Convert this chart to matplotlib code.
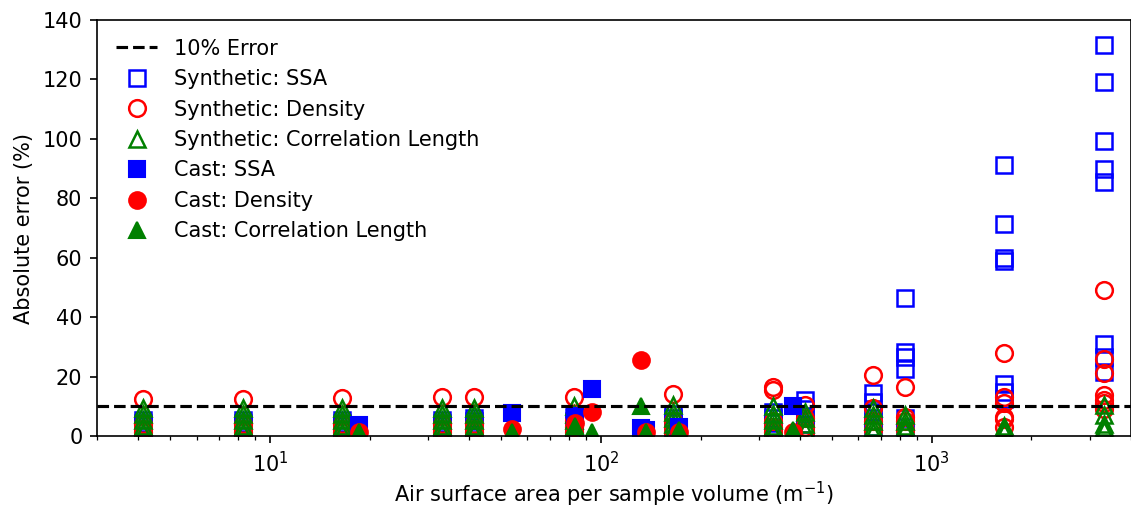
import matplotlib
matplotlib.use('Agg')
import matplotlib.pyplot as plt

# Synthetic samples: air surface area per volume (m^-1) and absolute errors (%)
syn_x = [4.14, 8.28, 16.56, 33.1, 41.4, 82.8, 165.6, 331, 414, 662, 828, 1656, 3312]

syn_ssa = [
    [5.5, 4.5, 3.5, 2.5, 1.5],
    [5.5, 4.5, 3.5, 2.5, 1.5],
    [5.5, 4.5, 3.5, 2.5, 1.5],
    [5.5, 4.5, 3.5, 2.5, 1.5],
    [6.0, 5.0, 4.0, 3.0, 2.0],
    [6.5, 5.0, 4.0, 3.0, 2.0],
    [7.5, 6.0, 4.5, 3.0, 2.0],
    [8.0, 6.0, 4.5, 3.0, 2.0],
    [12.2, 9.0, 6.0, 4.0, 2.0],
    [14.4, 11.5, 8.0, 5.0, 3.0],
    [46.4, 28.4, 26.5, 22.5, 6.0, 3.0],
    [91.1, 71.3, 59.9, 59.0, 17.5, 14.9, 12.5],
    [131.7, 119.1, 99.3, 90.0, 85.4, 31.1, 26.5, 21.4],
]

syn_density = [
    [12.6, 4.0, 2.5, 1.5],
    [12.6, 4.0, 2.5, 1.5],
    [12.8, 4.0, 2.5, 1.5],
    [13.2, 4.0, 2.5, 1.5],
    [13.0, 4.0, 2.5, 1.5],
    [13.2, 5.0, 3.0, 1.5],
    [14.1, 5.0, 3.0, 1.5],
    [16.6, 15.5, 5.0, 3.0, 1.5],
    [10.4, 6.0, 3.0, 1.5],
    [20.6, 9.3, 5.0, 2.0],
    [16.6, 6.5, 5.0, 2.0],
    [28.0, 13.2, 11.0, 6.3, 5.8, 2.9],
    [49.0, 25.9, 21.1, 13.8, 12.0, 11.0, 9.1],
]

syn_corr = [
    [9.4, 7.5, 5.5, 3.5, 1.5],
    [9.4, 7.5, 5.5, 3.5, 1.5],
    [9.4, 7.5, 5.5, 3.5, 1.5],
    [9.4, 7.5, 5.5, 3.5, 1.5],
    [9.4, 7.5, 5.5, 3.5, 1.5],
    [10.0, 7.5, 5.5, 3.5, 1.5],
    [10.5, 8.0, 6.0, 4.0, 2.0],
    [10.0, 7.5, 5.5, 3.5, 1.5],
    [8.0, 6.0, 4.0, 2.0],
    [9.5, 7.0, 5.0, 3.0, 1.5],
    [7.0, 5.0, 3.5, 2.0],
    [3.5, 2.5, 1.5],
    [10.4, 7.0, 4.0, 3.0, 2.0],
]

# Cast samples
cast_x = [18.6, 54, 83.5, 94, 132, 137, 172, 380]
cast_ssa = [3.6, 7.9, 6.8, 15.8, 2.8, 2.0, 2.9, 10.1]
cast_density = [1.5, 2.3, 4.5, 8.2, 25.5, 1.2, 1.5, 1.5]
cast_corr = [1.5, 1.5, 3.5, 1.5, 10.0, 1.5, 2.0, 2.0]


def flatten(xs, groups):
    px, py = [], []
    for x, vals in zip(xs, groups):
        for v in vals:
            px.append(x)
            py.append(v)
    return px, py


fig = plt.figure(figsize=(1131 / 150, 509 / 150), dpi=150)
ax = fig.add_subplot(111)
fig.subplots_adjust(left=97 / 1131, right=1.0, bottom=1 - 436 / 509, top=1 - 20 / 509)

ax.axhline(10, color='k', ls='--', lw=1.5, label='10% Error', zorder=5)

ms = 8
x, y = flatten(syn_x, syn_ssa)
ax.plot(x, y, 's', ms=ms, mfc='none', mec='b', mew=1.2, label='Synthetic: SSA')
x, y = flatten(syn_x, syn_density)
ax.plot(x, y, 'o', ms=ms, mfc='none', mec='r', mew=1.2, label='Synthetic: Density')
x, y = flatten(syn_x, syn_corr)
ax.plot(x, y, '^', ms=ms, mfc='none', mec='g', mew=1.2, label='Synthetic: Correlation Length')

ax.plot(cast_x, cast_ssa, 's', ms=ms, color='b', label='Cast: SSA')
ax.plot(cast_x, cast_density, 'o', ms=ms, color='r', label='Cast: Density')
ax.plot(cast_x, cast_corr, '^', ms=ms, color='g', label='Cast: Correlation Length')

ax.set_xscale('log')
ax.set_xlim(3.0, 4000)
ax.set_ylim(0, 140)
ax.set_yticks(range(0, 141, 20))
ax.set_xlabel('Air surface area per sample volume (m$^{-1}$)', labelpad=2)
ax.set_ylabel('Absolute error (%)')
ax.legend(loc='upper left', frameon=False)

fig.savefig('out.png', dpi=150)
